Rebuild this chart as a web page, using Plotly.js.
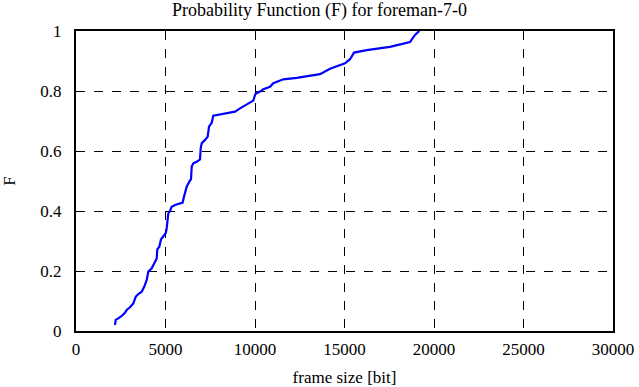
<!DOCTYPE html>
<html>
<head>
<meta charset="utf-8">
<script src="https://cdn.plot.ly/plotly-3.0.1.min.js"></script>
<style>html,body{margin:0;padding:0;background:#fff}#chart{width:639px;height:387px}</style>
</head>
<body>
<div id="chart"></div>
<script>
var frameSize = [2179, 2218, 2363, 2553, 2738, 2833, 3017, 3201, 3335, 3481, 3671, 3816, 3950, 4039, 4229, 4374, 4509, 4542, 4654, 4749, 4877, 5011, 5067, 5157, 5252, 5347, 5531, 5961, 6034, 6090, 6185, 6330, 6425, 6464, 6554, 6744, 6928, 6967, 7023, 7207, 7358, 7431, 7582, 7671, 8045, 8883, 9163, 9626, 9906, 10001, 10057, 10280, 10465, 10839, 11023, 11582, 12331, 13632, 14191, 15029, 15308, 15532, 16241, 17541, 18658, 18938, 19178];
var probF = [0.020, 0.037, 0.042, 0.050, 0.061, 0.070, 0.079, 0.092, 0.114, 0.123, 0.131, 0.148, 0.170, 0.198, 0.209, 0.226, 0.242, 0.272, 0.281, 0.306, 0.314, 0.326, 0.342, 0.392, 0.400, 0.414, 0.420, 0.428, 0.448, 0.459, 0.481, 0.498, 0.506, 0.548, 0.559, 0.564, 0.572, 0.609, 0.626, 0.637, 0.648, 0.681, 0.694, 0.718, 0.722, 0.731, 0.742, 0.757, 0.768, 0.787, 0.792, 0.798, 0.806, 0.814, 0.826, 0.839, 0.844, 0.856, 0.874, 0.892, 0.906, 0.928, 0.936, 0.947, 0.963, 0.987, 1.000];
var xTicks = [0, 5000, 10000, 15000, 20000, 25000, 30000];
var yTicks = [0, 0.2, 0.4, 0.6, 0.8, 1];
var yTickText = ['0', '0.2', '0.4', '0.6', '0.8', '1'];

var font = {family: 'Liberation Serif, Times New Roman, DejaVu Serif, serif', size: 17, color: '#000'};
var titleFont = {family: 'Liberation Serif, Times New Roman, DejaVu Serif, serif', size: 18, color: '#000'};

Plotly.newPlot('chart', [{
  x: frameSize, y: probF, type: 'scatter', mode: 'lines',
  line: {color: '#0000ff', width: 2.2, shape: 'linear'},
  hoverinfo: 'skip'
}], {
  width: 639, height: 387,
  margin: {l: 76, r: 26, t: 31, b: 56, pad: 0},
  paper_bgcolor: '#fff', plot_bgcolor: '#fff',
  font: font,
  showlegend: false,
  title: {text: 'Probability Function (F) for foreman-7-0', font: titleFont, x: 0.5, xref: 'container', y: 0.975, yref: 'container', yanchor: 'middle'},
  xaxis: {
    range: [0, 30000], tickvals: xTicks, ticktext: xTicks.map(String),
    showgrid: true, gridcolor: '#000', griddash: 'dash', gridwidth: 1,
    showline: true, linecolor: '#000', linewidth: 2, mirror: true,
    ticks: '', zeroline: false, tickfont: font, ticklabelstandoff: 2,
    title: {text: 'frame size [bit]', font: font, standoff: 14}
  },
  yaxis: {
    range: [0, 1], tickvals: yTicks, ticktext: yTickText,
    showgrid: true, gridcolor: '#000', griddash: 'dash', gridwidth: 1,
    showline: true, linecolor: '#000', linewidth: 2, mirror: true,
    ticks: '', zeroline: false, tickfont: font, ticklabelstandoff: 9,
    title: {text: 'F', font: font, standoff: 24}
  }
}, {staticPlot: true, displayModeBar: false});
</script>
</body>
</html>
